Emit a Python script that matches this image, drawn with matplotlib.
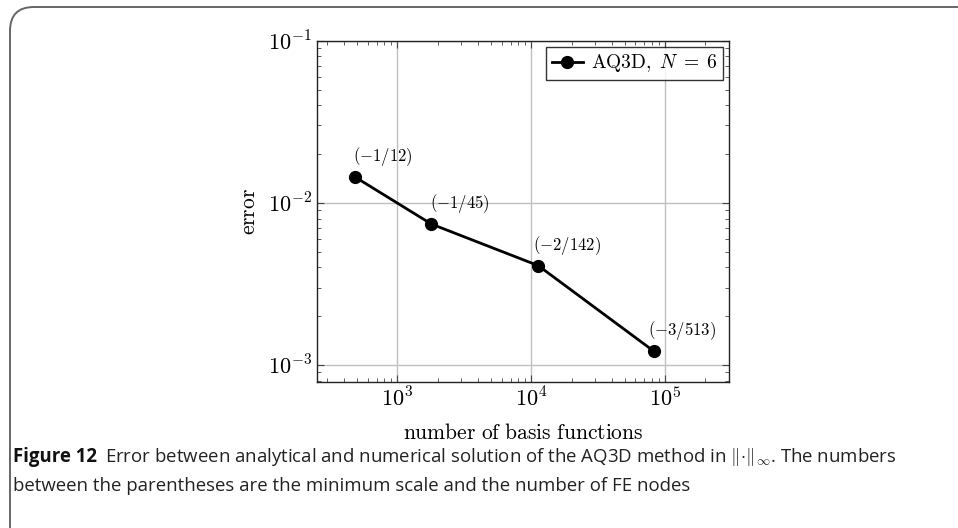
import math
import matplotlib
matplotlib.use("Agg")
import matplotlib.pyplot as plt
from matplotlib.ticker import LogLocator, FuncFormatter, NullFormatter
from matplotlib.patches import FancyBboxPatch

# data
basisFunctions = [481, 1795, 11280, 81900]
errors = [0.01446, 0.0074, 0.0041, 0.00122]
pointLabels = [r"$(-1/12)$", r"$(-1/45)$", r"$(-2/142)$", r"$(-3/513)$"]
seriesName = r"$\mathrm{AQ3D},\ N\;=\;6$"

plt.rcParams["mathtext.fontset"] = "cm"
plt.rcParams["font.family"] = ["Open Sans", "DejaVu Sans"]

fig = plt.figure(figsize=(9.58, 5.28), dpi=100)

# rounded frame around the figure (runs off the right/bottom edge)
frame = FancyBboxPatch((10 / 958, -0.2), 1.2, 1.2 - 7 / 528,
                       boxstyle="round,pad=0,rounding_size=0.025",
                       transform=fig.transFigure, facecolor="none",
                       edgecolor="#666666", linewidth=1.4, mutation_aspect=958 / 528)
fig.patches.append(frame)

ax = fig.add_axes([317 / 958, 1 - 382 / 528, (729 - 317) / 958, (382 - 40.7) / 528])
ax.set_xscale("log")
ax.set_yscale("log")
ax.set_xlim(251, 3.0e5)
ax.set_ylim(10 ** -3.105, 1e-1)

ax.plot(basisFunctions, errors, color="black", linewidth=2.0, marker="o",
        markersize=8.5, label=seriesName, zorder=3)

# small per-label shifts so the text sits like in the original
labelShift = [-1, -1, -4, -4]
for x, y, lab, dx in zip(basisFunctions, errors, pointLabels, labelShift):
    ax.annotate(lab, (x, y), xytext=(dx, 6.5), textcoords="offset points",
                ha="left", va="bottom", fontsize=12)

ax.xaxis.set_major_locator(LogLocator(base=10, numticks=10))
ax.yaxis.set_major_locator(LogLocator(base=10, numticks=10))
ax.xaxis.set_minor_locator(LogLocator(base=10, subs=range(2, 10), numticks=20))
ax.yaxis.set_minor_locator(LogLocator(base=10, subs=range(2, 10), numticks=20))
powFmt = FuncFormatter(lambda v, p: r"$10^{%d}$" % round(math.log10(v)))
ax.xaxis.set_major_formatter(powFmt)
ax.yaxis.set_major_formatter(powFmt)
ax.xaxis.set_minor_formatter(NullFormatter())
ax.yaxis.set_minor_formatter(NullFormatter())

ax.tick_params(which="both", direction="in", top=True, right=True, labelsize=16, color="#444444")
ax.tick_params(which="major", length=5, width=0.8)
ax.tick_params(which="minor", length=3, width=0.6)
ax.tick_params(axis="x", pad=4)
ax.grid(True, which="major", color="#c0c0c0", linewidth=1.0)
for s in ax.spines.values():
    s.set_linewidth(1.0)
    s.set_color("#222222")

ax.set_xlabel(r"$\mathrm{number\ of\ basis\ functions}$", fontsize=15.5, labelpad=8)
ax.set_ylabel(r"$\mathrm{error}$", fontsize=15.5, labelpad=6)

leg = ax.legend(loc="upper right", fontsize=14, frameon=True, fancybox=False,
                handlelength=1.6, borderaxespad=0.3, borderpad=0.3, handletextpad=0.4)
leg.get_frame().set_edgecolor("black")
leg.get_frame().set_linewidth(1.0)

# caption
capFont = 13.4
boldPart = fig.text(13 / 958, 1 - 462 / 528, "Figure 12", fontsize=capFont,
                    fontweight="bold", color="#111111", va="baseline")
fig.canvas.draw()
bb = boldPart.get_window_extent()
fig.text(bb.x1 / 958 + 8 / 958, 1 - 462 / 528,
         r"Error between analytical and numerical solution of the AQ3D method in $\Vert\!\cdot\!\Vert_\infty$. The numbers",
         fontsize=capFont, color="#222222", va="baseline")
fig.text(13 / 958, 1 - 491 / 528,
         "between the parentheses are the minimum scale and the number of FE nodes",
         fontsize=capFont, color="#222222", va="baseline")

fig.savefig("out.png", dpi=100)
